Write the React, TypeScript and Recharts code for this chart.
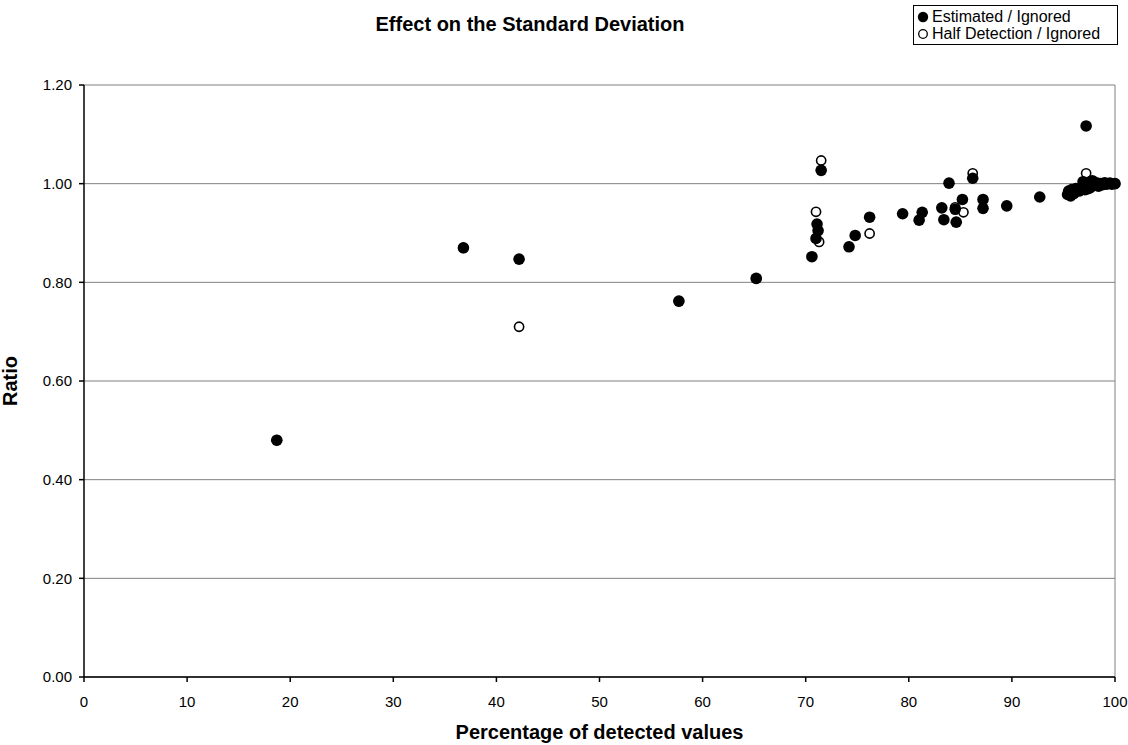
import React from "react";
import { ScatterChart, Scatter, XAxis, YAxis, CartesianGrid, ReferenceLine, Label } from "recharts";

const FONT = "'Liberation Sans', Arial, Helvetica, sans-serif";

// Estimated / Ignored ratios
const estimatedPct = [
  18.7, 36.8, 42.2, 57.7, 65.2, 70.6, 71.0, 71.1, 71.2, 71.5, 74.2, 74.8, 76.2, 79.4, 81.0, 81.3, 83.2, 83.4,
  83.9, 84.5, 84.6, 85.2, 86.2, 87.2, 87.2, 89.5, 92.7, 97.2,
  95.4, 95.5, 95.7, 95.8, 96.0, 96.2, 96.5, 96.8, 96.9, 97.0, 97.1, 97.3, 97.4, 97.5, 97.6, 97.8, 98.0, 98.2,
  98.4, 98.6, 98.8, 99.0, 99.2, 99.5, 99.7, 100.0,
];
const estimatedRatio = [
  0.48, 0.87, 0.847, 0.762, 0.808, 0.852, 0.889, 0.918, 0.905, 1.027, 0.872, 0.895, 0.932, 0.939, 0.926, 0.942,
  0.951, 0.927, 1.001, 0.948, 0.922, 0.968, 1.011, 0.968, 0.95, 0.955, 0.973, 1.117,
  0.978, 0.985, 0.975, 0.988, 0.98, 0.99, 0.985, 0.993, 1.004, 0.998, 0.988, 0.995, 0.99, 1.003, 0.992, 1.006,
  0.997, 1.002, 0.995, 1.0, 0.998, 1.002, 0.999, 1.001, 0.999, 1.0,
];

// Half Detection / Ignored ratios
const halfPct = [
  18.7, 36.8, 42.2, 57.7, 65.2, 71.0, 71.3, 71.5, 76.2, 84.5, 85.3, 86.2, 97.2, 95.6, 96.4, 97.0, 98.0, 99.0, 100.0,
];
const halfRatio = [
  0.48, 0.87, 0.71, 0.762, 0.808, 0.943, 0.882, 1.047, 0.899, 0.952, 0.942, 1.021, 1.021, 0.982, 0.988, 0.996,
  0.999, 1.0, 1.0,
];

const xTicks = [0, 10, 20, 30, 40, 50, 60, 70, 80, 90, 100];
const yTicks = [0, 0.2, 0.4, 0.6, 0.8, 1.0, 1.2];

const estimated = estimatedPct.map((pct, i) => ({ pct, ratio: estimatedRatio[i] }));
const half = halfPct.map((pct, i) => ({ pct, ratio: halfRatio[i] }));

const FilledDot = (p: any) => <circle cx={p.cx} cy={p.cy} r={5.8} fill="#000" />;
const OpenDot = (p: any) => (
  <circle cx={p.cx} cy={p.cy} r={4.6} fill="#fff" stroke="#000" strokeWidth={1.6} />
);

const legendItems = [
  { name: "Estimated / Ignored", filled: true },
  { name: "Half Detection / Ignored", filled: false },
];

function LegendBox() {
  return (
    <div
      style={{
        position: "absolute",
        left: 913,
        top: 5,
        width: 203,
        border: "1px solid #000",
        padding: "2px 0 2px 0",
        fontFamily: FONT,
        fontSize: 16,
        lineHeight: "17px",
        background: "#fff",
      }}
    >
      {legendItems.map((it) => (
        <div key={it.name} style={{ display: "flex", alignItems: "center", paddingLeft: 3 }}>
          <svg width={13} height={12} style={{ marginRight: 2 }}>
            {it.filled ? (
              <circle cx={6} cy={6} r={5.2} fill="#000" />
            ) : (
              <circle cx={6} cy={6} r={4.3} fill="#fff" stroke="#000" strokeWidth={1.3} />
            )}
          </svg>
          <span>{it.name}</span>
        </div>
      ))}
    </div>
  );
}

export default function App() {
  return (
    <div style={{ position: "absolute", left: 0, top: 0, width: 1128, height: 745, background: "#fff" }}>
      <div
        style={{
          position: "absolute",
          left: 0,
          width: 1128,
          top: 13,
          textAlign: "center",
          fontFamily: FONT,
          fontWeight: "bold",
          fontSize: 20,
        }}
      >
        <span style={{ position: "relative", left: -34 }}>Effect on the Standard Deviation</span>
      </div>
      <LegendBox />
      <ScatterChart width={1128} height={745} margin={{ top: 85, right: 13, bottom: 0, left: 0 }}>
        <CartesianGrid vertical={false} stroke="#808080" />
        <ReferenceLine x={100} stroke="#808080" />
        <XAxis
          type="number"
          dataKey="pct"
          domain={[0, 100]}
          ticks={xTicks}
          height={68}
          tickSize={5}
          tickMargin={14}
          stroke="#000"
          strokeWidth={1.5}
          tick={{ fill: "#000", fontSize: 15, fontFamily: FONT }}
        >
          <Label
            value="Percentage of detected values"
            position="insideBottom"
            offset={6}
            style={{ fontFamily: FONT, fontWeight: "bold", fontSize: 20, fill: "#000" }}
          />
        </XAxis>
        <YAxis
          type="number"
          dataKey="ratio"
          domain={[0, 1.2]}
          ticks={yTicks}
          width={84}
          tickSize={5}
          tickMargin={7}
          stroke="#000"
          strokeWidth={1.5}
          tickFormatter={(v: number) => v.toFixed(2)}
          tick={{ fill: "#000", fontSize: 15, fontFamily: FONT }}
        >
          <Label
            value="Ratio"
            angle={-90}
            position="insideLeft"
            offset={10}
            style={{ fontFamily: FONT, fontWeight: "bold", fontSize: 20, fill: "#000", textAnchor: "middle" }}
          />
        </YAxis>
        <Scatter name="Half Detection / Ignored" data={half} fill="#000" shape={OpenDot} isAnimationActive={false} />
        <Scatter name="Estimated / Ignored" data={estimated} fill="#000" shape={FilledDot} isAnimationActive={false} />
      </ScatterChart>
    </div>
  );
}
